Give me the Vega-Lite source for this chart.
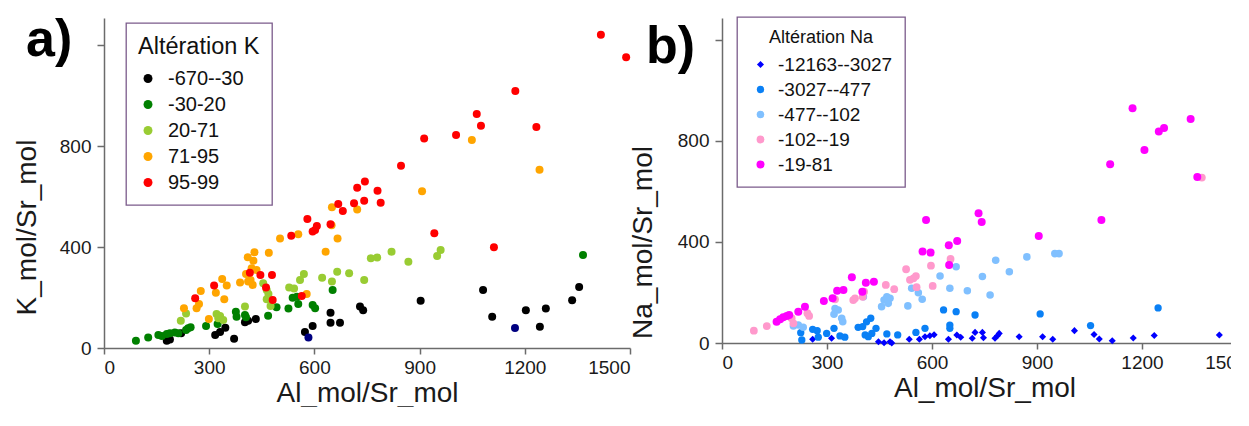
{
  "$schema": "https://vega.github.io/schema/vega-lite/v6.json",
  "background": "white",
  "padding": {"left": 13, "top": 14, "right": -17, "bottom": 0},
  "bounds": "flush",
  "spacing": 92,
  "resolve": {"scale": {"color": "independent", "shape": "independent", "size": "independent"}, "legend": {"color": "independent", "shape": "independent", "size": "independent"}},
  "config": {
    "font": "Liberation Sans",
    "view": {"stroke": null},
    "axis": {
      "domainColor": "#6b6b6b", "domainWidth": 1.5, "tickColor": "#6b6b6b", "tickWidth": 1.5, "tickSize": 6,
      "labelFont": "Liberation Sans", "labelFontSize": 19, "labelColor": "#1a1a1a", "labelPadding": 4,
      "titleFont": "Liberation Sans", "titleFontSize": 28, "titleFontWeight": "normal", "titleColor": "#1a1a1a",
      "grid": false, "format": "d"
    },
    "axisY": {"tickSize": 7, "labelPadding": 6},
    "legend": {
      "strokeColor": "#7b5b8b", "strokeWidth": 1.3, "fillColor": "white",
      "titleFont": "Liberation Sans", "labelFont": "Liberation Sans",
      "titleFontWeight": "normal", "titleColor": "#111111", "labelColor": "#111111",
      "symbolStrokeWidth": 0
    }
  },
  "datasets": {
    "kdata": [
      {"al":179,"k":29,"c":"-670--30"},{"al":188,"k":34,"c":"-670--30"},{"al":220,"k":58,"c":"-670--30"},{"al":317,"k":51,"c":"-670--30"},{"al":331,"k":63,"c":"-670--30"},{"al":346,"k":80,"c":"-670--30"},{"al":371,"k":37,"c":"-670--30"},{"al":402,"k":102,"c":"-670--30"},{"al":411,"k":108,"c":"-670--30"},{"al":433,"k":115,"c":"-670--30"},{"al":573,"k":63,"c":"-670--30"},{"al":595,"k":87,"c":"-670--30"},{"al":646,"k":140,"c":"-670--30"},{"al":646,"k":100,"c":"-670--30"},{"al":673,"k":100,"c":"-670--30"},{"al":730,"k":164,"c":"-670--30"},{"al":739,"k":150,"c":"-670--30"},{"al":903,"k":187,"c":"-670--30"},{"al":1081,"k":230,"c":"-670--30"},{"al":1107,"k":124,"c":"-670--30"},{"al":1203,"k":150,"c":"-670--30"},{"al":1260,"k":156,"c":"-670--30"},{"al":1243,"k":84,"c":"-670--30"},{"al":1335,"k":189,"c":"-670--30"},{"al":1355,"k":242,"c":"-670--30"},
      {"al":91,"k":29,"c":"-30-20"},{"al":126,"k":42,"c":"-30-20"},{"al":155,"k":51,"c":"-30-20"},{"al":165,"k":48,"c":"-30-20"},{"al":179,"k":55,"c":"-30-20"},{"al":188,"k":58,"c":"-30-20"},{"al":202,"k":61,"c":"-30-20"},{"al":212,"k":58,"c":"-30-20"},{"al":234,"k":71,"c":"-30-20"},{"al":240,"k":78,"c":"-30-20"},{"al":247,"k":82,"c":"-30-20"},{"al":291,"k":87,"c":"-30-20"},{"al":324,"k":95,"c":"-30-20"},{"al":376,"k":144,"c":"-30-20"},{"al":378,"k":124,"c":"-30-20"},{"al":402,"k":131,"c":"-30-20"},{"al":405,"k":122,"c":"-30-20"},{"al":468,"k":128,"c":"-30-20"},{"al":492,"k":161,"c":"-30-20"},{"al":526,"k":156,"c":"-30-20"},{"al":538,"k":199,"c":"-30-20"},{"al":550,"k":203,"c":"-30-20"},{"al":554,"k":174,"c":"-30-20"},{"al":595,"k":170,"c":"-30-20"},{"al":602,"k":157,"c":"-30-20"},{"al":652,"k":230,"c":"-30-20"},{"al":1366,"k":368,"c":"-30-20"},
      {"al":219,"k":108,"c":"20-71"},{"al":234,"k":137,"c":"20-71"},{"al":321,"k":135,"c":"20-71"},{"al":331,"k":127,"c":"20-71"},{"al":340,"k":111,"c":"20-71"},{"al":326,"k":118,"c":"20-71"},{"al":402,"k":164,"c":"20-71"},{"al":454,"k":256,"c":"20-71"},{"al":464,"k":230,"c":"20-71"},{"al":469,"k":214,"c":"20-71"},{"al":464,"k":193,"c":"20-71"},{"al":475,"k":166,"c":"20-71"},{"al":528,"k":240,"c":"20-71"},{"al":542,"k":236,"c":"20-71"},{"al":559,"k":269,"c":"20-71"},{"al":570,"k":293,"c":"20-71"},{"al":622,"k":278,"c":"20-71"},{"al":650,"k":263,"c":"20-71"},{"al":665,"k":302,"c":"20-71"},{"al":699,"k":296,"c":"20-71"},{"al":742,"k":269,"c":"20-71"},{"al":761,"k":355,"c":"20-71"},{"al":779,"k":358,"c":"20-71"},{"al":820,"k":381,"c":"20-71"},{"al":868,"k":342,"c":"20-71"},{"al":950,"k":364,"c":"20-71"},{"al":960,"k":388,"c":"20-71"},
      {"al":228,"k":157,"c":"71-95"},{"al":264,"k":157,"c":"71-95"},{"al":271,"k":174,"c":"71-95"},{"al":276,"k":226,"c":"71-95"},{"al":299,"k":115,"c":"71-95"},{"al":319,"k":219,"c":"71-95"},{"al":337,"k":273,"c":"71-95"},{"al":343,"k":193,"c":"71-95"},{"al":350,"k":248,"c":"71-95"},{"al":388,"k":259,"c":"71-95"},{"al":405,"k":293,"c":"71-95"},{"al":410,"k":359,"c":"71-95"},{"al":426,"k":346,"c":"71-95"},{"al":429,"k":379,"c":"71-95"},{"al":411,"k":263,"c":"71-95"},{"al":418,"k":269,"c":"71-95"},{"al":424,"k":250,"c":"71-95"},{"al":421,"k":316,"c":"71-95"},{"al":435,"k":309,"c":"71-95"},{"al":470,"k":377,"c":"71-95"},{"al":502,"k":434,"c":"71-95"},{"al":554,"k":451,"c":"71-95"},{"al":578,"k":214,"c":"71-95"},{"al":632,"k":381,"c":"71-95"},{"al":650,"k":557,"c":"71-95"},{"al":666,"k":434,"c":"71-95"},{"al":649,"k":486,"c":"71-95"},{"al":722,"k":549,"c":"71-95"},{"al":907,"k":621,"c":"71-95"},{"al":1049,"k":824,"c":"71-95"},{"al":1242,"k":706,"c":"71-95"},
      {"al":260,"k":197,"c":"95-99"},{"al":314,"k":248,"c":"95-99"},{"al":416,"k":298,"c":"95-99"},{"al":446,"k":289,"c":"95-99"},{"al":462,"k":240,"c":"95-99"},{"al":479,"k":289,"c":"95-99"},{"al":481,"k":190,"c":"95-99"},{"al":534,"k":445,"c":"95-99"},{"al":564,"k":206,"c":"95-99"},{"al":580,"k":511,"c":"95-99"},{"al":595,"k":461,"c":"95-99"},{"al":602,"k":467,"c":"95-99"},{"al":607,"k":483,"c":"95-99"},{"al":646,"k":490,"c":"95-99"},{"al":668,"k":570,"c":"95-99"},{"al":681,"k":543,"c":"95-99"},{"al":713,"k":573,"c":"95-99"},{"al":722,"k":635,"c":"95-99"},{"al":744,"k":659,"c":"95-99"},{"al":742,"k":583,"c":"95-99"},{"al":780,"k":623,"c":"95-99"},{"al":789,"k":575,"c":"95-99"},{"al":847,"k":722,"c":"95-99"},{"al":913,"k":830,"c":"95-99"},{"al":942,"k":454,"c":"95-99"},{"al":1004,"k":844,"c":"95-99"},{"al":1063,"k":927,"c":"95-99"},{"al":1075,"k":880,"c":"95-99"},{"al":1112,"k":399,"c":"95-99"},{"al":1173,"k":1018,"c":"95-99"},{"al":1233,"k":875,"c":"95-99"},{"al":1417,"k":1241,"c":"95-99"},{"al":1489,"k":1152,"c":"95-99"},
      {"al":583,"k":42,"c":"autre"},{"al":1172,"k":79,"c":"autre"}
    ],
    "nadata": [
      {"al":259,"na":15,"c":"-12163--3027"},{"al":313,"na":19,"c":"-12163--3027"},{"al":447,"na":5,"c":"-12163--3027"},{"al":463,"na":1,"c":"-12163--3027"},{"al":480,"na":5,"c":"-12163--3027"},{"al":485,"na":0,"c":"-12163--3027"},{"al":535,"na":15,"c":"-12163--3027"},{"al":564,"na":15,"c":"-12163--3027"},{"al":580,"na":25,"c":"-12163--3027"},{"al":594,"na":29,"c":"-12163--3027"},{"al":606,"na":33,"c":"-12163--3027"},{"al":647,"na":15,"c":"-12163--3027"},{"al":671,"na":32,"c":"-12163--3027"},{"al":682,"na":23,"c":"-12163--3027"},{"al":715,"na":19,"c":"-12163--3027"},{"al":723,"na":42,"c":"-12163--3027"},{"al":744,"na":42,"c":"-12163--3027"},{"al":747,"na":21,"c":"-12163--3027"},{"al":780,"na":19,"c":"-12163--3027"},{"al":787,"na":29,"c":"-12163--3027"},{"al":792,"na":38,"c":"-12163--3027"},{"al":849,"na":25,"c":"-12163--3027"},{"al":916,"na":25,"c":"-12163--3027"},{"al":945,"na":15,"c":"-12163--3027"},{"al":1007,"na":49,"c":"-12163--3027"},{"al":1063,"na":34,"c":"-12163--3027"},{"al":1078,"na":16,"c":"-12163--3027"},{"al":1115,"na":9,"c":"-12163--3027"},{"al":1175,"na":20,"c":"-12163--3027"},{"al":1235,"na":30,"c":"-12163--3027"},{"al":1421,"na":32,"c":"-12163--3027"},
      {"al":225,"na":41,"c":"-3027--477"},{"al":228,"na":12,"c":"-3027--477"},{"al":259,"na":54,"c":"-3027--477"},{"al":272,"na":49,"c":"-3027--477"},{"al":275,"na":23,"c":"-3027--477"},{"al":299,"na":38,"c":"-3027--477"},{"al":320,"na":58,"c":"-3027--477"},{"al":337,"na":28,"c":"-3027--477"},{"al":351,"na":23,"c":"-3027--477"},{"al":389,"na":62,"c":"-3027--477"},{"al":402,"na":65,"c":"-3027--477"},{"al":413,"na":84,"c":"-3027--477"},{"al":425,"na":98,"c":"-3027--477"},{"al":409,"na":32,"c":"-3027--477"},{"al":418,"na":25,"c":"-3027--477"},{"al":428,"na":38,"c":"-3027--477"},{"al":440,"na":58,"c":"-3027--477"},{"al":471,"na":36,"c":"-3027--477"},{"al":502,"na":32,"c":"-3027--477"},{"al":554,"na":42,"c":"-3027--477"},{"al":580,"na":58,"c":"-3027--477"},{"al":633,"na":131,"c":"-3027--477"},{"al":651,"na":71,"c":"-3027--477"},{"al":651,"na":58,"c":"-3027--477"},{"al":669,"na":124,"c":"-3027--477"},{"al":723,"na":111,"c":"-3027--477"},{"al":909,"na":115,"c":"-3027--477"},{"al":1053,"na":69,"c":"-3027--477"},{"al":1246,"na":139,"c":"-3027--477"},{"al":1491,"na":84,"c":"-3027--477"},
      {"al":204,"na":67,"c":"-477--102"},{"al":218,"na":71,"c":"-477--102"},{"al":232,"na":62,"c":"-477--102"},{"al":323,"na":137,"c":"-477--102"},{"al":332,"na":131,"c":"-477--102"},{"al":320,"na":114,"c":"-477--102"},{"al":342,"na":98,"c":"-477--102"},{"al":345,"na":84,"c":"-477--102"},{"al":404,"na":183,"c":"-477--102"},{"al":456,"na":144,"c":"-477--102"},{"al":463,"na":170,"c":"-477--102"},{"al":471,"na":183,"c":"-477--102"},{"al":480,"na":177,"c":"-477--102"},{"al":475,"na":157,"c":"-477--102"},{"al":531,"na":147,"c":"-477--102"},{"al":542,"na":217,"c":"-477--102"},{"al":561,"na":199,"c":"-477--102"},{"al":572,"na":173,"c":"-477--102"},{"al":623,"na":265,"c":"-477--102"},{"al":651,"na":217,"c":"-477--102"},{"al":669,"na":302,"c":"-477--102"},{"al":701,"na":207,"c":"-477--102"},{"al":744,"na":263,"c":"-477--102"},{"al":766,"na":190,"c":"-477--102"},{"al":821,"na":282,"c":"-477--102"},{"al":782,"na":328,"c":"-477--102"},{"al":871,"na":341,"c":"-477--102"},{"al":951,"na":354,"c":"-477--102"},{"al":963,"na":354,"c":"-477--102"},
      {"al":91,"na":49,"c":"-102--19"},{"al":128,"na":67,"c":"-102--19"},{"al":199,"na":98,"c":"-102--19"},{"al":204,"na":78,"c":"-102--19"},{"al":244,"na":118,"c":"-102--19"},{"al":249,"na":107,"c":"-102--19"},{"al":323,"na":173,"c":"-102--19"},{"al":375,"na":170,"c":"-102--19"},{"al":380,"na":177,"c":"-102--19"},{"al":402,"na":183,"c":"-102--19"},{"al":406,"na":203,"c":"-102--19"},{"al":468,"na":230,"c":"-102--19"},{"al":492,"na":213,"c":"-102--19"},{"al":526,"na":292,"c":"-102--19"},{"al":537,"na":250,"c":"-102--19"},{"al":547,"na":256,"c":"-102--19"},{"al":554,"na":265,"c":"-102--19"},{"al":556,"na":221,"c":"-102--19"},{"al":597,"na":306,"c":"-102--19"},{"al":602,"na":226,"c":"-102--19"},{"al":653,"na":333,"c":"-102--19"},{"al":1371,"na":655,"c":"-102--19"},
      {"al":156,"na":84,"c":"-19-81"},{"al":166,"na":94,"c":"-19-81"},{"al":175,"na":102,"c":"-19-81"},{"al":185,"na":107,"c":"-19-81"},{"al":192,"na":111,"c":"-19-81"},{"al":218,"na":124,"c":"-19-81"},{"al":237,"na":144,"c":"-19-81"},{"al":291,"na":166,"c":"-19-81"},{"al":316,"na":177,"c":"-19-81"},{"al":329,"na":207,"c":"-19-81"},{"al":347,"na":210,"c":"-19-81"},{"al":371,"na":260,"c":"-19-81"},{"al":401,"na":203,"c":"-19-81"},{"al":411,"na":239,"c":"-19-81"},{"al":434,"na":243,"c":"-19-81"},{"al":573,"na":362,"c":"-19-81"},{"al":583,"na":487,"c":"-19-81"},{"al":596,"na":358,"c":"-19-81"},{"al":648,"na":387,"c":"-19-81"},{"al":649,"na":309,"c":"-19-81"},{"al":672,"na":404,"c":"-19-81"},{"al":733,"na":514,"c":"-19-81"},{"al":742,"na":479,"c":"-19-81"},{"al":905,"na":424,"c":"-19-81"},{"al":1084,"na":487,"c":"-19-81"},{"al":1109,"na":708,"c":"-19-81"},{"al":1173,"na":930,"c":"-19-81"},{"al":1207,"na":764,"c":"-19-81"},{"al":1248,"na":838,"c":"-19-81"},{"al":1263,"na":851,"c":"-19-81"},{"al":1339,"na":887,"c":"-19-81"},{"al":1358,"na":657,"c":"-19-81"}
    ]
  },
  "hconcat": [
    {
      "width": 526,
      "height": 330,
      "title": {"text": "a)", "anchor": "start", "frame": "group", "fontSize": 52, "fontWeight": "bold", "font": "Liberation Sans", "color": "#000000", "baseline": "top", "dx": -78, "dy": 47, "offset": -2},
      "data": {"name": "kdata"},
      "mark": {"type": "circle", "size": 64, "opacity": 1},
      "encoding": {
        "x": {"field": "al", "type": "quantitative", "scale": {"domain": [0, 1500], "nice": false, "zero": false},
              "axis": {"values": [0, 300, 600, 900, 1200, 1500], "title": "Al_mol/Sr_mol", "titlePadding": 2}},
        "y": {"field": "k", "type": "quantitative", "scale": {"domain": [0, 1307], "nice": false},
              "axis": {"values": [0, 400, 800, 1200], "labelExpr": "datum.value >= 1200 ? '' : datum.label", "title": "K_mol/Sr_mol", "titleX": -63, "titleY": 209}},
        "color": {"field": "c", "type": "nominal",
                  "scale": {"domain": ["-670--30", "-30-20", "20-71", "71-95", "95-99", "autre"], "range": ["#000000", "#008000", "#99cc33", "#ffa500", "#ff0000", "#000080"]},
                  "legend": {"values": ["-670--30", "-30-20", "20-71", "71-95", "95-99"], "title": "Altération K", "orient": "none", "legendX": 22, "legendY": 5,
                             "padding": 12, "titleFontSize": 23.5, "labelFontSize": 20, "symbolSize": 80, "symbolType": "circle", "rowPadding": 6, "titlePadding": 10, "labelOffset": 10}}
      }
    },
    {
      "width": 525,
      "height": 325,
      "title": {"text": "b)", "anchor": "start", "frame": "group", "fontSize": 52, "fontWeight": "bold", "font": "Liberation Sans", "color": "#000000", "baseline": "top", "dx": -76, "dy": 50, "offset": -8},
      "data": {"name": "nadata"},
      "mark": {"type": "point", "filled": true, "opacity": 1, "strokeWidth": 0},
      "encoding": {
        "x": {"field": "al", "type": "quantitative", "scale": {"domain": [0, 1500], "nice": false, "zero": false},
              "axis": {"values": [0, 300, 600, 900, 1200, 1500], "title": "Al_mol/Sr_mol", "titlePadding": 2}},
        "y": {"field": "na", "type": "quantitative", "scale": {"domain": [0, 1287], "nice": false},
              "axis": {"values": [0, 400, 800, 1200], "labelExpr": "datum.value >= 1200 ? '' : datum.label", "title": "Na_mol/Sr_mol", "titleX": -65, "titleY": 224}},
        "color": {"field": "c", "type": "nominal",
                  "scale": {"domain": ["-12163--3027", "-3027--477", "-477--102", "-102--19", "-19-81"], "range": ["#0000ff", "#0a80f5", "#80c0ff", "#ff99cc", "#ff00ff"]},
                  "legend": {"title": "Altération Na", "orient": "none", "legendX": 15, "legendY": -1,
                             "padding": 12, "titleFontSize": 18, "labelFontSize": 19, "symbolSize": 60, "rowPadding": 5, "titlePadding": 8, "labelOffset": 8, "titleAnchor": "middle", "symbolOffset": 2}},
        "shape": {"field": "c", "type": "nominal",
                  "scale": {"domain": ["-12163--3027", "-3027--477", "-477--102", "-102--19", "-19-81"], "range": ["diamond", "circle", "circle", "circle", "circle"]}},
        "size": {"field": "c", "type": "nominal",
                 "scale": {"domain": ["-12163--3027", "-3027--477", "-477--102", "-102--19", "-19-81"], "range": [50, 64, 64, 64, 64]}, "legend": null}
      }
    }
  ]
}
